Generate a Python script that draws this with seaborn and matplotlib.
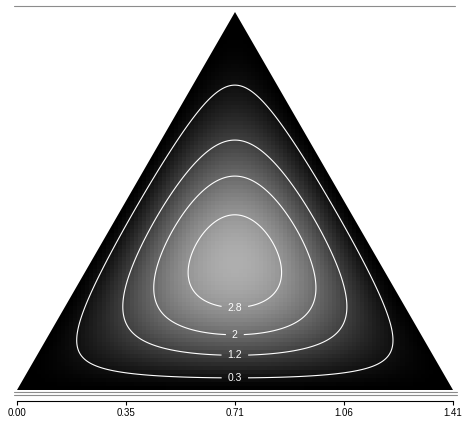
import math
import numpy as np
import matplotlib
matplotlib.use("Agg")
import matplotlib.pyplot as plt
from matplotlib.patches import Polygon
import seaborn as sns

# Dirichlet concentration of the plotted density (symmetric)
alpha = [2.5, 2.5, 2.5]
levels = [0.3, 1.2, 2.0, 2.8]
tick_pos = [0.0, 0.3536, 0.7071, 1.0607, 1.4142]
tick_labels = ["0.00", "0.35", "0.71", "1.06", "1.41"]

S = math.sqrt(2)
H = math.sqrt(6) / 2


def dirichlet_density(X, Y):
    a3 = Y / H
    a1 = (S - X - Y / math.sqrt(3)) / S
    a2 = 1 - a1 - a3
    inside = (a1 > 0) & (a2 > 0) & (a3 > 0)
    b = [np.clip(a, 1e-12, None) for a in (a1, a2, a3)]
    const = math.gamma(sum(alpha)) / np.prod([math.gamma(a) for a in alpha])
    d = const * b[0] ** (alpha[0] - 1) * b[1] ** (alpha[1] - 1) * b[2] ** (alpha[2] - 1)
    d = d / math.sqrt(3)  # per unit area of the equilateral triangle
    return np.where(inside, d, 0.0)


sns.set_theme(style="white")
plt.rcParams['font.family'] = ['Liberation Sans', 'DejaVu Sans']

W, Hpx = 463, 424
fig = plt.figure(figsize=(W / 100, Hpx / 100), dpi=100)
ppu = 308.5
x0_px = 16.7
base_px = 390.0
bottom_px = 400.5
ax = fig.add_axes([0, (Hpx - bottom_px) / Hpx, 1, bottom_px / Hpx])
ax.set_xlim(-x0_px / ppu, (W - x0_px) / ppu)
ax.set_ylim(-(bottom_px - base_px) / ppu, base_px / ppu)

# coarse raster image
nx, ny = 108, 94
xe = np.linspace(0, S, nx + 1)
ye = np.linspace(0, H, ny + 1)
xc = (xe[:-1] + xe[1:]) / 2
yc = (ye[:-1] + ye[1:]) / 2
XC, YC = np.meshgrid(xc, yc)
Z = dirichlet_density(XC, YC)
mesh = ax.pcolormesh(xe, ye, Z, cmap="gray", vmin=0, vmax=4.8, shading="flat")
tri = Polygon([(0, 0), (S, 0), (S / 2, H)], closed=True, facecolor="none", edgecolor="none")
ax.add_patch(tri)
mesh.set_clip_path(tri)

# smooth contours
xf = np.linspace(0, S, 500)
yf = np.linspace(0, H, 450)
XF, YF = np.meshgrid(xf, yf)
ZF = dirichlet_density(XF, YF)
cs = ax.contour(XF, YF, ZF, levels=levels, colors="white", linewidths=0.8)
lab_y = [0.04, 0.11, 0.17, 0.245]
ax.clabel(cs, inline=True, fontsize=7.5, colors="white", fmt=lambda v: f"{v:g}",
          manual=[(S / 2, y) for y in lab_y], inline_spacing=6)

# frame lines
def px_to_y(py):
    return (base_px - py) / ppu

def px_to_x(px):
    return (px - x0_px) / ppu

ax.plot([px_to_x(14), px_to_x(455)], [px_to_y(6)] * 2, color="#8c8c8c", lw=0.8)
for py in (391.5, 394.5):
    ax.plot([px_to_x(14), px_to_x(457)], [px_to_y(py)] * 2, color="#8c8c8c", lw=0.8)

for s in ["top", "right", "left"]:
    ax.spines[s].set_visible(False)
ax.spines["bottom"].set_bounds(0, S)
ax.spines["bottom"].set_color("black")
ax.spines["bottom"].set_linewidth(0.8)
ax.set_xticks(tick_pos)
ax.set_xticklabels(tick_labels, fontsize=7)
ax.tick_params(axis="x", direction="out", length=3, width=0.8, pad=2.5, bottom=True, colors="black")
ax.set_yticks([])

fig.savefig("out.png", dpi=100)
